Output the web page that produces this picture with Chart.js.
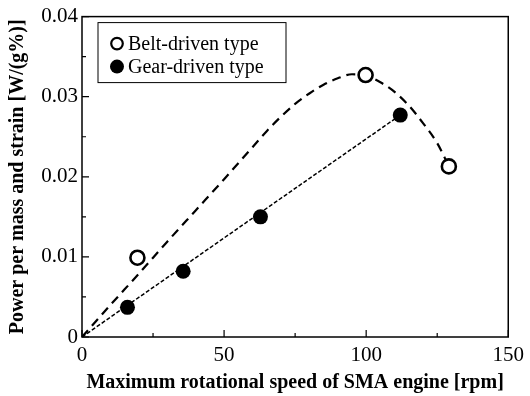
<!DOCTYPE html>
<html>
<head>
<meta charset="utf-8">
<script src="https://cdn.jsdelivr.net/npm/chart.js@4/dist/chart.umd.min.js"></script>
<style>
  body { margin: 0; background: #fff; }
</style>
</head>
<body>
<canvas id="chart" width="530" height="396"></canvas>
<script>
// measured points
const beltX = [19.5, 99.8, 129.1];
const beltY = [0.0099, 0.0327, 0.0213];
const gearX = [16, 35.6, 62.8, 112];
const gearY = [0.0037, 0.0082, 0.0150, 0.0277];

// fitted curves
const beltFitX = [0, 10, 20, 30, 40, 50, 55, 60, 65, 70, 75, 80, 85, 90, 95, 100, 105, 110, 115, 120, 125, 129];
const beltFitY = [0, 0.0040, 0.0079, 0.0119, 0.0158, 0.0197, 0.0217, 0.0237, 0.0257, 0.0275, 0.0291, 0.0304, 0.0315, 0.0323, 0.0328, 0.0326, 0.0318, 0.0306, 0.0289, 0.0267, 0.0242, 0.0214];
const gearFitX = [0, 112];
const gearFitY = [0, 0.0277];

// axes
const xTicks = [0, 50, 100, 150];
const xMinor = [25, 75, 125];
const yTicks = [0, 0.01, 0.02, 0.03, 0.04];
const yMinor = [0.005, 0.015, 0.025, 0.035];

const labels = ["Belt-driven type", "Gear-driven type"];

const toPoints = (xs, ys) => xs.map((x, i) => ({ x: x, y: ys[i] }));

// frame, inward ticks and the boxed legend
const framePlugin = {
  id: "frame",
  afterDatasetsDraw(chart) {
    const ctx = chart.ctx;
    const a = chart.chartArea;
    const xs = chart.scales.x;
    const ys = chart.scales.y;
    ctx.save();
    ctx.strokeStyle = "#000";
    ctx.lineWidth = 1.5;
    ctx.strokeRect(a.left, a.top, a.right - a.left, a.bottom - a.top);

    ctx.lineWidth = 1.2;
    ctx.beginPath();
    xTicks.forEach((v) => {
      const p = xs.getPixelForValue(v);
      ctx.moveTo(p, a.bottom);
      ctx.lineTo(p, a.bottom - 7);
    });
    xMinor.forEach((v) => {
      const p = xs.getPixelForValue(v);
      ctx.moveTo(p, a.bottom);
      ctx.lineTo(p, a.bottom - 4);
    });
    yTicks.forEach((v) => {
      const p = ys.getPixelForValue(v);
      ctx.moveTo(a.left, p);
      ctx.lineTo(a.left + 7, p);
    });
    yMinor.forEach((v) => {
      const p = ys.getPixelForValue(v);
      ctx.moveTo(a.left, p);
      ctx.lineTo(a.left + 4, p);
    });
    ctx.stroke();

    // legend box
    const bx = a.left + 16, by = a.top + 6, bw = 188, bh = 60;
    ctx.fillStyle = "#fff";
    ctx.fillRect(bx, by, bw, bh);
    ctx.lineWidth = 1;
    ctx.strokeRect(bx, by, bw, bh);
    ctx.font = "20px 'Liberation Serif', 'Times New Roman', serif";
    ctx.textBaseline = "middle";
    ctx.fillStyle = "#000";
    labels.forEach((t, i) => {
      const cy = by + 21 + i * 23;
      ctx.beginPath();
      ctx.arc(bx + 19, cy, i === 0 ? 5.8 : 7, 0, Math.PI * 2);
      if (i === 0) {
        ctx.lineWidth = 2.2;
        ctx.stroke();
      } else {
        ctx.fill();
      }
      ctx.fillText(t, bx + 30, cy + 1);
    });
    ctx.restore();
  },
};

const tickFont = { family: "'Liberation Serif', 'Times New Roman', serif", size: 21 };
const titleFont = { family: "'Liberation Serif', 'Times New Roman', serif", size: 20, weight: "bold" };

new Chart(document.getElementById("chart"), {
  type: "scatter",
  data: {
    datasets: [
      {
        label: labels[0],
        data: toPoints(beltX, beltY),
        pointRadius: 7,
        pointBackgroundColor: "#fff",
        pointBorderColor: "#000",
        pointBorderWidth: 2.6,
      },
      {
        label: labels[1],
        data: toPoints(gearX, gearY),
        pointRadius: 7.5,
        pointBackgroundColor: "#000",
        pointBorderColor: "#000",
        pointBorderWidth: 0,
      },
      {
        label: "belt fit",
        data: toPoints(beltFitX, beltFitY),
        showLine: true,
        pointRadius: 0,
        borderColor: "#000",
        borderWidth: 2.2,
        borderDash: [9, 6],
        cubicInterpolationMode: "monotone",
      },
      {
        label: "gear fit",
        data: toPoints(gearFitX, gearFitY),
        showLine: true,
        pointRadius: 0,
        borderColor: "#000",
        borderWidth: 1.5,
        borderDash: [4, 2],
      },
    ],
  },
  options: {
    responsive: false,
    animation: false,
    layout: { padding: { left: 0, right: 18, top: 16, bottom: 0 } },
    plugins: {
      legend: { display: false },
      tooltip: { enabled: false },
    },
    scales: {
      x: {
        type: "linear",
        min: 0,
        max: 150,
        grid: { display: false, drawTicks: false },
        border: { display: false },
        afterBuildTicks: (scale) => {
          scale.ticks = xTicks.map((v) => ({ value: v }));
        },
        afterFit: (scale) => {
          scale.height = 59;
        },
        ticks: {
          color: "#000",
          font: tickFont,
          padding: 6,
          maxRotation: 0,
          callback: (v) => String(v),
        },
        title: {
          display: true,
          text: "Maximum rotational speed of SMA engine [rpm]",
          color: "#000",
          font: titleFont,
          padding: { top: 0, bottom: 1 },
        },
      },
      y: {
        type: "linear",
        min: 0,
        max: 0.04,
        grid: { display: false, drawTicks: false },
        border: { display: false },
        afterBuildTicks: (scale) => {
          scale.ticks = yTicks.map((v) => ({ value: v }));
        },
        afterFit: (scale) => {
          scale.width = 82;
        },
        ticks: {
          color: "#000",
          font: tickFont,
          padding: 4,
          callback: (v) => (v === 0 ? "0" : v.toFixed(2)),
        },
        title: {
          display: true,
          text: "Power per mass and strain [W/(g%)]",
          color: "#000",
          font: titleFont,
          padding: { top: 6, bottom: 0 },
        },
      },
    },
  },
  plugins: [framePlugin],
});
</script>
</body>
</html>
